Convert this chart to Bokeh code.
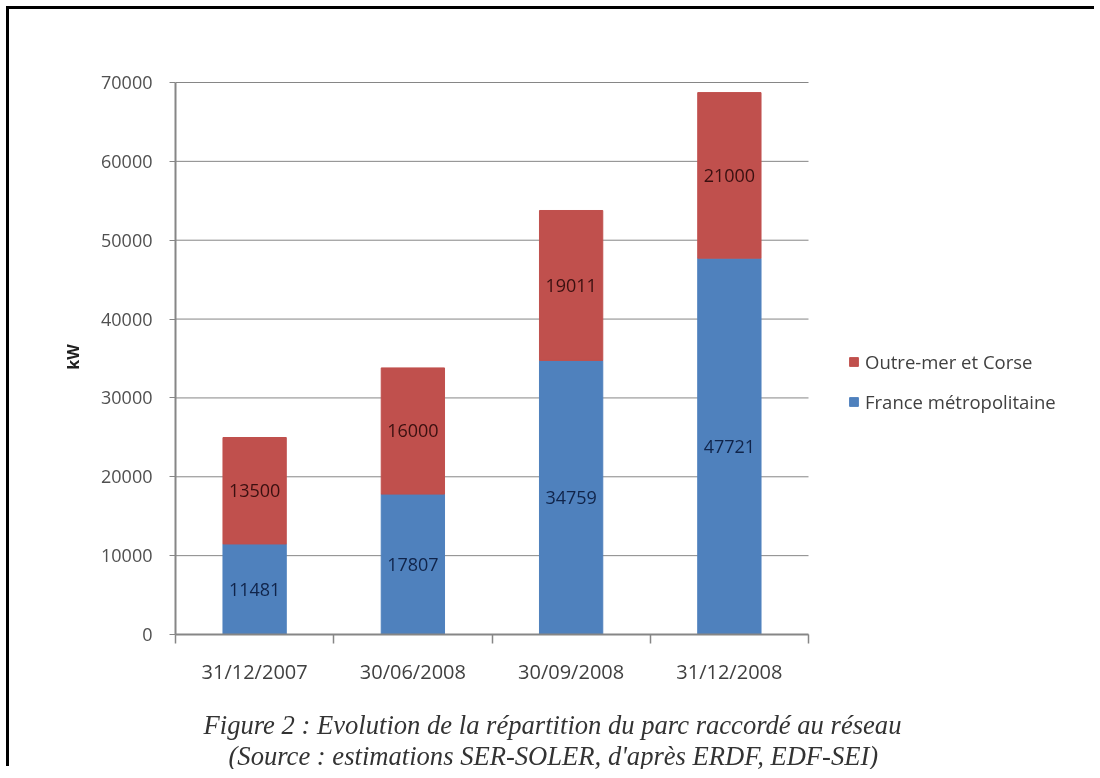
from bokeh.plotting import figure
from bokeh.models import (ColumnDataSource, Range1d, FixedTicker, Legend, LegendItem,
                          Title, NumeralTickFormatter)
from bokeh.embed import file_html
from bokeh.resources import INLINE
from bokeh.core.properties import value

# ---------------- data ----------------
dates = ["31/12/2007", "30/06/2008", "30/09/2008", "31/12/2008"]
france = [11481, 17807, 34759, 47721]
outremer = [13500, 16000, 19011, 21000]
series_names = ["France métropolitaine", "Outre-mer et Corse"]
y_ticks = [0, 10000, 20000, 30000, 40000, 50000, 60000, 70000]
y_label = "kW"
caption_lines = [
    "Figure 2 : Evolution de la répartition du parc raccordé au réseau",
    "(Source : estimations SER-SOLER, d'après ERDF, EDF-SEI)",
]

# ---------------- style / layout ----------------
BLUE = "#4F81BD"
RED = "#C0504D"
GREY = "#868686"
OFF = 9                      # canvas starts 9px in (the frame line sits at 6-9)
W, H = 1100 - OFF - 3, 778 - OFF - 9
FL, FR, FT, FB = 175 - OFF, 808 - OFF, 82 - OFF, 634 - OFF   # axis area in canvas px
FR_EXT = W - 1               # frame extended to the right to hold the legend
TOP_PAD = 3                  # a little room above the top gridline
YMAX = y_ticks[-1]
NCAT = len(dates)
x_end = NCAT * (FR_EXT - FL) / (FR - FL)
y_end = YMAX * (FB - FT + TOP_PAD) / (FB - FT)

xs = [i + 0.5 for i in range(NCAT)]
src = ColumnDataSource(dict(
    x=xs,
    france=france,
    outremer=outremer,
    f_mid=[f / 2 for f in france],
    o_mid=[f + o / 2 for f, o in zip(france, outremer)],
    f_txt=[str(f) for f in france],
    o_txt=[str(o) for o in outremer],
))

p = figure(width=W, height=H, x_range=Range1d(0, x_end), y_range=Range1d(0, y_end),
           output_backend="svg", toolbar_location=None,
           min_border_left=FL, min_border_right=W - FR_EXT,
           min_border_top=FT - TOP_PAD, min_border_bottom=H - FB)
p.styles = {"position": "fixed", "left": f"{OFF}px", "top": f"{OFF}px",
            "box-shadow": "-3px -3px 0px 0px black"}
p.outline_line_color = None
p.background_fill_color = "white"
p.border_fill_color = "white"

# grid lines only across the category area
p.xgrid.visible = False
p.ygrid.visible = False
p.segment(x0=[0] * len(y_ticks), x1=[NCAT] * len(y_ticks), y0=y_ticks, y1=y_ticks,
          line_color=GREY, line_width=1)

xa = p.xaxis[0]
xa.bounds = (0, NCAT)
xa.ticker = FixedTicker(ticks=xs, minor_ticks=list(range(NCAT + 1)))
xa.major_label_overrides = {x: d for x, d in zip(xs, dates)}
xa.axis_line_color = GREY
xa.axis_line_width = 2
xa.major_tick_line_color = None
xa.major_tick_out = 0
xa.major_tick_in = 0
xa.minor_tick_line_color = GREY
xa.minor_tick_line_width = 1.5
xa.minor_tick_out = 9
xa.minor_tick_in = 0
xa.major_label_text_font = "Open Sans"
xa.major_label_text_font_size = "20px"
xa.major_label_text_color = "#404040"
xa.major_label_standoff = 14

ya = p.yaxis[0]
ya.bounds = (0, YMAX)
ya.ticker = FixedTicker(ticks=y_ticks)
ya.formatter = NumeralTickFormatter(format="0")
ya.axis_line_color = GREY
ya.axis_line_width = 2
ya.major_tick_line_color = GREY
ya.major_tick_out = 6
ya.major_tick_in = 0
ya.minor_tick_line_color = None
ya.major_label_text_font = "Open Sans"
ya.major_label_text_font_size = "18px"
ya.major_label_text_color = "#505050"
ya.major_label_standoff = 17
ya.axis_label = y_label
ya.axis_label_text_font = "Open Sans"
ya.axis_label_text_font_style = "bold"
ya.axis_label_text_font_size = "16px"
ya.axis_label_text_color = "#202020"
ya.axis_label_standoff = 14

# bars
rs = p.vbar_stack(["france", "outremer"], x="x", width=0.4, color=[BLUE, RED], source=src)

# data labels
p.text(x="x", y="f_mid", text="f_txt", source=src, text_align="center", text_baseline="middle",
       text_font=value("Open Sans"), text_font_size="18px", text_color="#10244a")
p.text(x="x", y="o_mid", text="o_txt", source=src, text_align="center", text_baseline="middle",
       text_font=value("Open Sans"), text_font_size="18px", text_color="#3a1010")

# legend (inside the extended frame, right of the bars)
legend = Legend(items=[LegendItem(label=series_names[1], renderers=[rs[1]]),
                       LegendItem(label=series_names[0], renderers=[rs[0]])],
                location=(673, 220), padding=0, margin=0, spacing=15,
                glyph_width=11, glyph_height=11, label_standoff=6, label_height=25,
                label_text_font="Open Sans", label_text_font_size="18.5px",
                label_text_color="#404040", border_line_color=None,
                background_fill_alpha=0)
p.add_layout(legend)

# caption (below the axis)
for line, off, so in zip(caption_lines, [28, 53], [44, -46]):
    p.add_layout(Title(text=line, align="left", offset=off, text_font="Liberation Serif",
                       text_font_style="italic", text_font_size="26.6px", text_color="#333333",
                       standoff=so, vertical_align="top"), "below")

open("out.html", "w").write(file_html(p, INLINE))
